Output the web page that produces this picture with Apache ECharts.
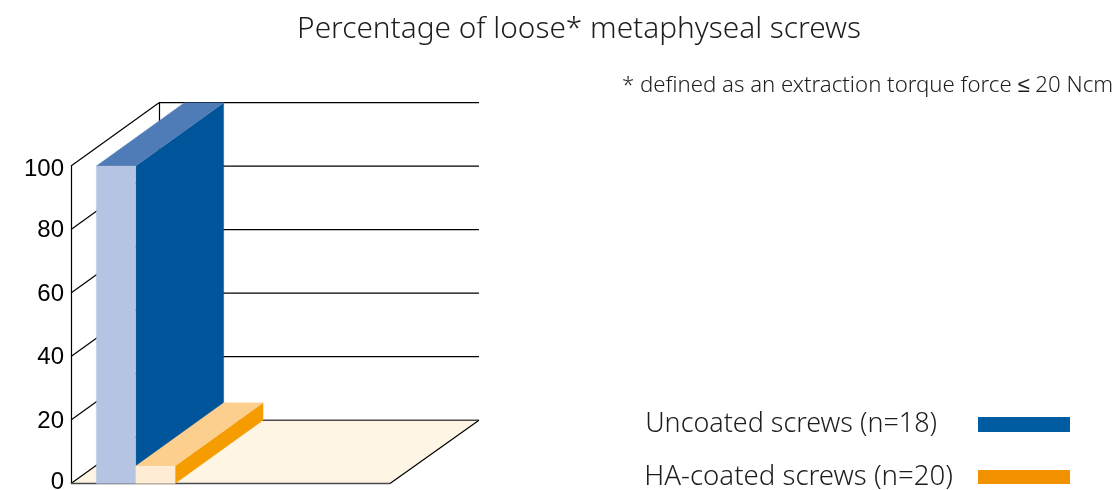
<!DOCTYPE html>
<html>
<head>
<meta charset="utf-8">
<style>html,body{margin:0;padding:0;background:#fff}#c{width:1112px;height:490px}</style>
<script src="https://cdn.jsdelivr.net/npm/echarts@6/dist/echarts.min.js"></script>
</head>
<body>
<div id="c"></div>
<script>
const titleText = 'Percentage of loose* metaphyseal screws';
const noteText = '* defined as an extraction torque force \u2264 20 Ncm';
const seriesNames = ['Uncoated screws (n=18)', 'HA-coated screws (n=20)'];
const looseValues = [100, 5.5];
const yTicks = [0, 20, 40, 60, 80, 100];
const barStarts = [0.635, 1.623];
const barSpan = 0.988;
const DX = 88, DY = 63.3;
const SANS = '"Noto Sans", sans-serif';
const INK = '#1d1d1b';

const blue = { front: '#b5c4e2', top: '#4f7cb7', side: '#005499' };
const orange = { front: '#feecd4', top: '#fdcf8f', side: '#f59c00' };

const lineEl = (x1, y1, x2, y2, stroke, w) => ({
  type: 'line', shape: { x1, y1, x2, y2 }, style: { stroke, lineWidth: w || 1.2 }
});
const polyEl = (points, fill) => ({
  type: 'polygon', shape: { points }, style: { fill, stroke: fill, lineWidth: 0.3 }
});

function renderFrame(params, api) {
  const kids = [];
  const [xL, y0] = api.coord([0, 0]);
  const [xR] = api.coord([8, 0]);
  const backR = 479;
  kids.push(polyEl([[xL, y0], [xR, y0], [xR + DX + 1, y0 - DY], [xL + DX, y0 - DY]], '#fff5e4'));
  yTicks.forEach(t => {
    const y = api.coord([0, t])[1];
    const by = y - DY;
    kids.push(lineEl(xL, y, xL + DX, by, '#000'));
    kids.push(lineEl(xL + DX, by, backR, by, t === 0 ? '#4a4a4a' : '#000', t === 0 ? 1.6 : 1.2));
  });
  const top = api.coord([0, 100])[1];
  kids.push(lineEl(xL + DX + 0.5, top - DY, xL + DX + 0.5, y0 - DY, '#000'));
  kids.push(lineEl(xR, y0, xR + DX + 1, y0 - DY, '#000'));
  kids.push(lineEl(xL, y0, xR, y0, '#4a4a4a', 1.6));
  return { type: 'group', children: kids };
}

function barRenderer(pal) {
  return function (params, api) {
    const i = api.value(0), v = api.value(1);
    const [x0, y0] = api.coord([barStarts[i], 0]);
    const [x1, yT] = api.coord([barStarts[i] + barSpan, v]);
    return {
      type: 'group',
      children: [
        polyEl([[x1, yT], [x1, y0], [x1 + DX, y0 - DY], [x1 + DX, yT - DY]], pal.side),
        polyEl([[x0, yT], [x1, yT], [x1 + DX, yT - DY], [x0 + DX, yT - DY]], pal.top),
        polyEl([[x0, yT], [x1, yT], [x1, y0], [x0, y0]], pal.front)
      ]
    };
  };
}

const labelStyle = { fontFamily: '"Liberation Sans", Arial, sans-serif', fontSize: 24, color: '#000' };
const legendText = (size, topPad, rightGap) => ({
  fontFamily: SANS, fontWeight: 300, fontSize: size, color: INK, lineHeight: 30, padding: [topPad, rightGap, 0, 0]
});

const chart = echarts.init(document.getElementById('c'), null, { renderer: 'canvas' });
chart.setOption({
  animation: false,
  backgroundColor: '#fff',
  title: [
    { text: titleText, left: 579, top: 15, textAlign: 'center', padding: 0,
      textStyle: { fontFamily: SANS, fontWeight: 300, fontSize: 29.8, color: INK } },
    { text: noteText, left: 622, top: 75, padding: 0,
      textStyle: { fontFamily: SANS, fontWeight: 300, fontSize: 22.2, color: INK } }
  ],
  legend: [
    { data: [{ name: seriesNames[0], icon: 'rect' }], right: 42, top: 407.5, align: 'right',
      orient: 'vertical', itemWidth: 92, itemHeight: 15, padding: 0, selectedMode: false,
      textStyle: legendText(26.9, 4, 36) },
    { data: [{ name: seriesNames[1], icon: 'rect' }], right: 42, top: 458, align: 'right',
      orient: 'vertical', itemWidth: 92, itemHeight: 14, padding: 0, selectedMode: false,
      textStyle: legendText(27.6, 8, 20) }
  ],
  grid: { left: 71, right: 722, top: 166, bottom: 6.5, outerBoundsMode: 'none' },
  xAxis: { type: 'value', min: 0, max: 8, show: false },
  yAxis: {
    type: 'value', min: 0, max: 100, interval: 20,
    axisLine: { show: true, lineStyle: { color: '#000', width: 1.2 } },
    axisTick: { show: false },
    splitLine: { show: false },
    axisLabel: {
      margin: 7,
      color: '#000',
      formatter: v => v === 100 ? '{hi|' + v + '}' : v === 0 ? '{lo|' + v + '}' : '{n|' + v + '}',
      rich: {
        n: { ...labelStyle, padding: [2, 0, 0, 0] },
        hi: { ...labelStyle, padding: [6, 0, 0, 0] },
        lo: { ...labelStyle, padding: [0, 0, 2, 0] }
      }
    }
  },
  series: [
    { type: 'custom', name: 'frame', silent: true, z: 1, data: [[0, 0]], renderItem: renderFrame, clip: false,
      encode: { x: 0, y: 1 } },
    { type: 'custom', name: seriesNames[0], z: 2, clip: false, renderItem: barRenderer(blue),
      itemStyle: { color: '#005ca0' }, data: [[0, looseValues[0]]], encode: { x: 0, y: 1 } },
    { type: 'custom', name: seriesNames[1], z: 3, clip: false, renderItem: barRenderer(orange),
      itemStyle: { color: '#f39200' }, data: [[1, looseValues[1]]], encode: { x: 0, y: 1 } }
  ]
});
</script>
</body>
</html>
